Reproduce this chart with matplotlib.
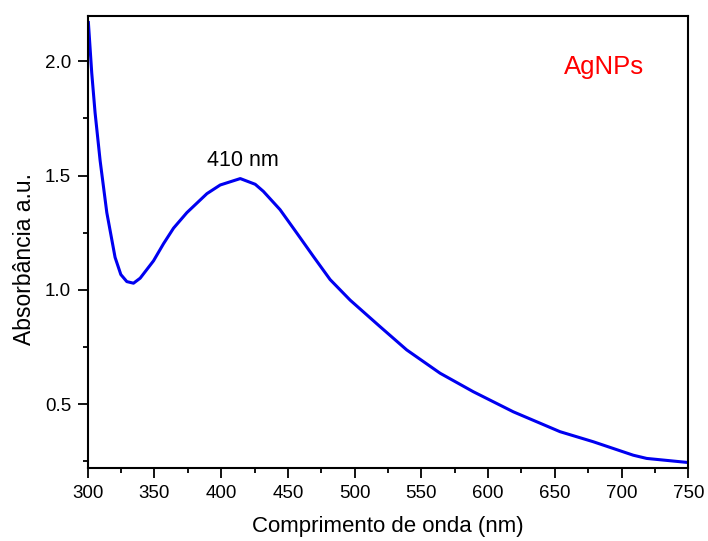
import numpy as np
import matplotlib.pyplot as plt
from matplotlib.ticker import MultipleLocator

plt.rcParams['font.family'] = ['Liberation Sans', 'DejaVu Sans']

# espectro UV-Vis
wavelength = [300.5, 303.0, 305.5, 309.3, 314.3, 320.5, 324.8, 329.3, 334.3, 339.3,
              349.3, 356.8, 364.3, 374.3, 389.3, 399.3, 414.3, 425.5, 431.6, 444.1,
              456.6, 469.1, 481.6, 496.6, 519.0, 539.0, 564.0, 588.9, 618.9, 653.9,
              678.8, 708.8, 718.8, 750.0]
absorbance = [2.17, 1.95, 1.776, 1.565, 1.338, 1.142, 1.067, 1.036, 1.029, 1.051,
              1.127, 1.202, 1.270, 1.338, 1.421, 1.459, 1.487, 1.462, 1.431, 1.351,
              1.249, 1.146, 1.045, 0.955, 0.839, 0.737, 0.635, 0.554, 0.466, 0.379,
              0.335, 0.276, 0.262, 0.244]

fig = plt.figure(figsize=(7.08, 5.41), dpi=100)
ax = fig.add_axes([0.1239, 0.1349, 0.8483, 0.8361])

ax.plot(wavelength, absorbance, color='#0000f0', lw=2.2)

ax.set_xlim(300, 750)
ax.set_ylim(0.22, 2.20)
ax.xaxis.set_major_locator(MultipleLocator(50))
ax.xaxis.set_minor_locator(MultipleLocator(25))
ax.yaxis.set_major_locator(MultipleLocator(0.5))
ax.yaxis.set_minor_locator(MultipleLocator(0.25))
ax.tick_params(which='major', direction='out', length=7, width=1.3, labelsize=13.5, pad=5)
ax.tick_params(which='minor', direction='out', length=3.5, width=1.3)
for s in ax.spines.values():
    s.set_linewidth(1.5)

ax.set_xlabel('Comprimento de onda (nm)', fontsize=16, labelpad=10)
ax.set_ylabel('Absorbância a.u.', fontsize=16.5)
ax.yaxis.set_label_coords(-0.086, 0.463)

ax.text(416, 1.565, '410 nm', fontsize=15.5, ha='center', va='center')
ax.text(687, 1.975, 'AgNPs', fontsize=18.5, color='red', ha='center', va='center')

fig.savefig('out.png', dpi=100)
